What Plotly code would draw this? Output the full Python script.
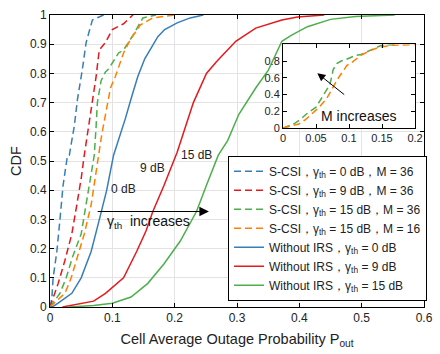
import plotly.graph_objects as go

# ---- data ----
scsi0_x = [0, 0.003, 0.005, 0.011, 0.016, 0.021, 0.028, 0.031, 0.039, 0.044, 0.052, 0.058, 0.068, 0.086]
scsi0_y = [0, 0.03, 0.10, 0.19, 0.30, 0.417, 0.518, 0.52, 0.62, 0.71, 0.815, 0.906, 0.983, 1.0]

scsi9_x = [0, 0.005, 0.013, 0.024, 0.035, 0.043, 0.05, 0.055, 0.06, 0.068, 0.074, 0.079, 0.089, 0.10, 0.118, 0.133]
scsi9_y = [0, 0.03, 0.08, 0.16, 0.25, 0.35, 0.44, 0.52, 0.59, 0.70, 0.79, 0.88, 0.906, 0.95, 0.97, 1.0]

scsi15_x = [0, 0.016, 0.026, 0.036, 0.05, 0.058, 0.065, 0.071, 0.074, 0.076, 0.082, 0.089, 0.094, 0.11, 0.118, 0.133, 0.149, 0.17]
scsi15_y = [0, 0.047, 0.10, 0.17, 0.25, 0.35, 0.44, 0.52, 0.62, 0.70, 0.775, 0.805, 0.815, 0.87, 0.88, 0.93, 0.99, 1.0]

scsi15m16_x = [0, 0.024, 0.034, 0.044, 0.055, 0.066, 0.073, 0.078, 0.083, 0.091, 0.097, 0.105, 0.118, 0.129, 0.145, 0.165, 0.2]
scsi15m16_y = [0, 0.047, 0.10, 0.17, 0.25, 0.35, 0.44, 0.52, 0.59, 0.68, 0.75, 0.79, 0.87, 0.916, 0.966, 0.99, 1.0]

wo0_x = [0, 0.005, 0.013, 0.035, 0.05, 0.066, 0.078, 0.091, 0.102, 0.11, 0.121, 0.131, 0.141, 0.152, 0.173, 0.184, 0.204, 0.225, 0.246]
wo0_y = [0, 0.002, 0.013, 0.047, 0.10, 0.19, 0.29, 0.40, 0.52, 0.57, 0.646, 0.72, 0.79, 0.85, 0.926, 0.95, 0.973, 0.99, 1.0]

wo9_x = [0.02, 0.047, 0.07, 0.089, 0.118, 0.139, 0.154, 0.165, 0.183, 0.204, 0.215, 0.23, 0.251, 0.267, 0.298, 0.33, 0.372, 0.397, 0.44]
wo9_y = [0, 0.01, 0.02, 0.047, 0.10, 0.19, 0.26, 0.327, 0.417, 0.53, 0.60, 0.70, 0.80, 0.84, 0.91, 0.955, 0.983, 0.993, 1.0]

wo15_x = [0.03, 0.07, 0.10, 0.13, 0.157, 0.183, 0.209, 0.235, 0.251, 0.27, 0.285, 0.303, 0.33, 0.35, 0.372, 0.387, 0.413, 0.45, 0.49, 0.553]
wo15_y = [0, 0.005, 0.013, 0.034, 0.081, 0.148, 0.226, 0.327, 0.417, 0.52, 0.57, 0.66, 0.75, 0.81, 0.91, 0.93, 0.96, 0.985, 0.995, 1.0]

names = [
    "S-CSI，γ<sub>th</sub> = 0 dB，M = 36",
    "S-CSI，γ<sub>th</sub> = 9 dB，M = 36",
    "S-CSI，γ<sub>th</sub> = 15 dB，M = 36",
    "S-CSI，γ<sub>th</sub> = 15 dB，M = 16",
    "Without IRS，γ<sub>th</sub> = 0 dB",
    "Without IRS，γ<sub>th</sub> = 9 dB",
    "Without IRS，γ<sub>th</sub> = 15 dB",
]

x_ticks = [0, 0.1, 0.2, 0.3, 0.4, 0.5, 0.6]
x_ticktext = ["0", "0.1", "0.2", "0.3", "0.4", "0.5", "0.6"]
y_ticks = [0, 0.1, 0.2, 0.3, 0.4, 0.5, 0.6, 0.7, 0.8, 0.9, 1]
y_ticktext = ["0", "0.1", "0.2", "0.3", "0.4", "0.5", "0.6", "0.7", "0.8", "0.9", "1"]
inset_x_ticks = [0, 0.05, 0.1, 0.15, 0.2]
inset_x_ticktext = ["0", "0.05", "0.1", "0.15", "0.2"]
inset_y_ticks = [0, 0.2, 0.4, 0.6, 0.8]
inset_y_ticktext = ["0", "0.2", "0.4", "0.6", "0.8"]

BLUE, RED, GREEN, ORANGE = "#377eb8", "#e41a1c", "#4daf4a", "#ff7f00"
DASH = "7px,4px"
FONT = "Arial, Liberation Sans, sans-serif"

fig = go.Figure()
series = [
    (scsi0_x, scsi0_y, BLUE, DASH),
    (scsi9_x, scsi9_y, RED, DASH),
    (scsi15_x, scsi15_y, GREEN, DASH),
    (scsi15m16_x, scsi15m16_y, ORANGE, DASH),
    (wo0_x, wo0_y, BLUE, "solid"),
    (wo9_x, wo9_y, RED, "solid"),
    (wo15_x, wo15_y, GREEN, "solid"),
]
for (xs, ys, c, d), n in zip(series, names):
    fig.add_trace(go.Scatter(x=xs, y=ys, mode="lines", name=n,
                             line=dict(color=c, width=1.5, dash=d)))

# inset
for xs, ys, c in [(scsi15_x, scsi15_y, GREEN), (scsi15m16_x, scsi15m16_y, ORANGE)]:
    fig.add_trace(go.Scatter(x=xs, y=ys, mode="lines", showlegend=False,
                             line=dict(color=c, width=1.5, dash=DASH),
                             xaxis="x2", yaxis="y2"))

axis_common = dict(showline=True, linecolor="black", linewidth=1, mirror="ticks",
                   ticks="inside", ticklen=4, tickcolor="black", zeroline=False,
                   tickfont=dict(size=12, color="#222", family=FONT))

fig.update_layout(
    width=440, height=354,
    margin=dict(l=50, r=8, t=10, b=47),
    paper_bgcolor="white", plot_bgcolor="white",
    font=dict(family=FONT, color="#222"),
    xaxis=dict(range=[0, 0.6], tickvals=x_ticks, ticktext=x_ticktext,
               showgrid=True, gridcolor="#e3e3e3", gridwidth=1,
               title=dict(text="Cell Average Outage Probability P<sub>out</sub>",
                          font=dict(size=14.5, family=FONT, color="#222"), standoff=9),
               **axis_common),
    yaxis=dict(range=[0, 1], tickvals=y_ticks, ticktext=y_ticktext,
               showgrid=True, gridcolor="#e3e3e3", gridwidth=1,
               title=dict(text="CDF", font=dict(size=14.5, family=FONT, color="#222"), standoff=4),
               **axis_common),
    xaxis2=dict(domain=[0.623, 0.976], anchor="y2", range=[0, 0.2],
                tickvals=inset_x_ticks, ticktext=inset_x_ticktext, showgrid=False,
                **{**axis_common, "tickfont": dict(size=11, color="#222", family=FONT)}),
    yaxis2=dict(domain=[0.613, 0.899], anchor="x2", range=[0, 1],
                tickvals=inset_y_ticks, ticktext=inset_y_ticktext, showgrid=False,
                **{**axis_common, "tickfont": dict(size=11, color="#222", family=FONT)}),
    legend=dict(x=0.476, y=0.518, xanchor="left", yanchor="top",
                bgcolor="white", bordercolor="black", borderwidth=1,
                font=dict(size=12, family=FONT, color="#222"), tracegroupgap=0),
    showlegend=True,
)

ann_font = dict(size=12, family=FONT, color="#222")
fig.add_annotation(x=0.118, y=0.404, text="0 dB", showarrow=False, font=ann_font, xref="x", yref="y")
fig.add_annotation(x=0.165, y=0.475, text="9 dB", showarrow=False, font=ann_font, xref="x", yref="y")
fig.add_annotation(x=0.235, y=0.519, text="15 dB", showarrow=False, font=ann_font, xref="x", yref="y")

# gamma_th increases arrow
fig.add_annotation(x=0.255, y=0.327, ax=0.074, ay=0.327, axref="x", ayref="y",
                   xref="x", yref="y", text="", showarrow=True,
                   arrowhead=2, arrowsize=1.6, arrowwidth=1.2, arrowcolor="black")
fig.add_annotation(x=0.089, y=0.29, text="γ<sub>th</sub>  increases", showarrow=False,
                   xanchor="left", yanchor="middle", xref="x", yref="y",
                   font=dict(size=14, family=FONT, color="#111"))

# M increases arrow (inset)
fig.add_annotation(x=0.052, y=0.656, ax=0.095, ay=0.386, axref="x2", ayref="y2",
                   xref="x2", yref="y2", text="", showarrow=True,
                   arrowhead=2, arrowsize=1.6, arrowwidth=1, arrowcolor="black")
fig.add_annotation(x=0.114, y=0.14, text="M increases", showarrow=False,
                   xref="x2", yref="y2", font=dict(size=14, family=FONT, color="#111"))

fig.write_html("out.html")
